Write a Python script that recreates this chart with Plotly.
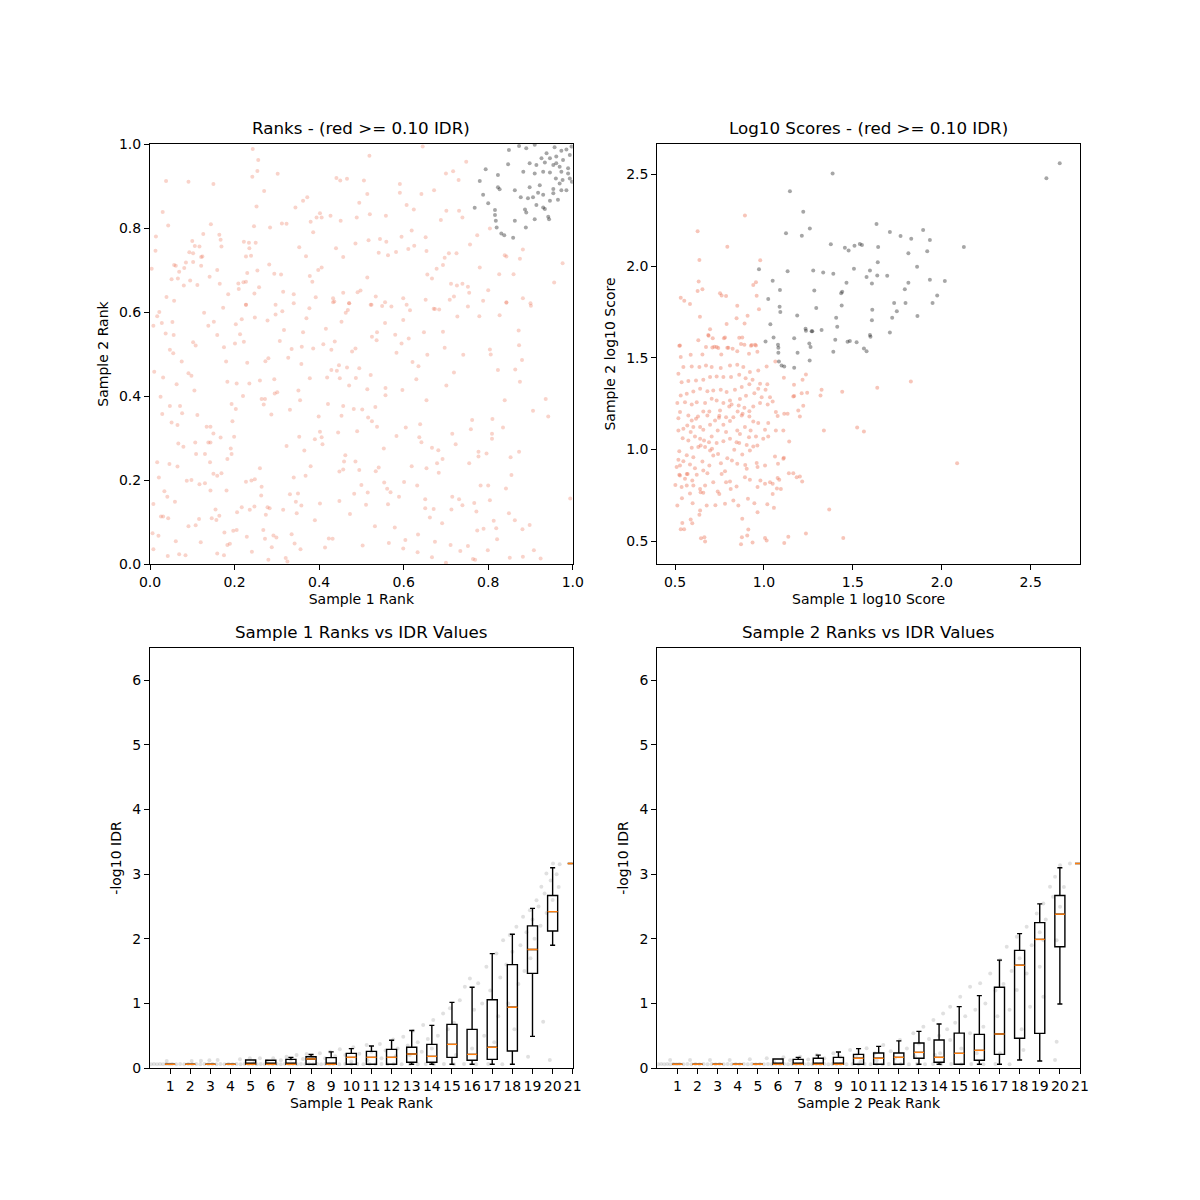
import plotly.graph_objects as go

# ---------------- data ----------------
# Top-left: ranks (sample1 rank, sample2 rank); grey = passing (IDR < 0.10), salmon = IDR >= 0.10
rank_pass = [
(0.849,0.986),(0.873,0.995),(0.890,0.990),(0.910,0.998),(0.957,0.992),(0.973,0.984),(0.985,0.987),(0.997,0.994),
(0.938,0.978),(0.926,0.966),(0.961,0.970),(0.977,0.962),(0.993,0.974),(0.847,0.952),(0.898,0.954),(0.914,0.950),
(0.934,0.956),(0.954,0.950),(0.969,0.946),(0.989,0.942),(0.794,0.940),(0.883,0.934),(0.910,0.930),(0.930,0.934),
(0.946,0.932),(0.973,0.934),(0.993,0.918),(0.823,0.926),(0.780,0.912),(0.823,0.897),(0.863,0.890),(0.898,0.897),
(0.922,0.902),(0.954,0.893),(0.969,0.906),(0.985,0.890),(0.788,0.879),(0.827,0.892),(0.877,0.873),(0.894,0.871),
(0.906,0.873),(0.918,0.884),(0.930,0.879),(0.954,0.883),(0.965,0.867),(0.946,0.865),(0.800,0.859),(0.768,0.848),
(0.816,0.843),(0.887,0.844),(0.914,0.855),(0.930,0.849),(0.934,0.845),(0.890,0.837),(0.816,0.831),(0.818,0.817),
(0.863,0.817),(0.910,0.821),(0.942,0.827),(0.944,0.821),(0.820,0.801),(0.831,0.787),(0.838,0.783),(0.859,0.777),
(0.889,0.801),(0.961,0.954),(0.946,0.966),(0.960,0.918),(0.976,0.914),(0.989,0.930),(0.998,0.910),(0.973,0.890),
]
rank_fail = [
(0.243,0.988),(0.256,0.962),(0.254,0.936),(0.038,0.912),(0.091,0.910),(0.150,0.905),(0.242,0.922),(0.302,0.929),
(0.270,0.888),(0.252,0.851),(0.030,0.838),(0.043,0.806),(0.144,0.809),(0.014,0.780),(0.013,0.746),(0.004,0.703),
(0.441,0.919),(0.450,0.913),(0.466,0.917),(0.506,0.913),(0.519,0.972),(0.645,0.994),(0.700,0.930),(0.717,0.935),
(0.748,0.958),(0.730,0.914),(0.672,0.890),(0.591,0.905),(0.591,0.884),(0.642,0.881),(0.514,0.881),(0.495,0.860),
(0.372,0.873),(0.362,0.865),(0.344,0.849),(0.402,0.835),(0.394,0.825),(0.427,0.829),(0.406,0.825),(0.380,0.815),
(0.451,0.817),(0.489,0.825),(0.520,0.833),(0.558,0.829),(0.607,0.855),(0.624,0.844),(0.701,0.841),(0.731,0.841),
(0.688,0.819),(0.739,0.825),(0.323,0.810),(0.312,0.811),(0.284,0.801),(0.246,0.804),(0.164,0.784),(0.126,0.786),
(0.100,0.769),(0.106,0.757),(0.117,0.756),(0.093,0.742),(0.102,0.740),(0.121,0.731),(0.124,0.732),(0.057,0.712),
(0.061,0.710),(0.081,0.705),(0.069,0.696),(0.102,0.719),(0.085,0.718),(0.121,0.710),(0.051,0.678),(0.066,0.680),
(0.095,0.675),(0.080,0.663),(0.112,0.664),(0.141,0.684),(0.159,0.700),(0.167,0.772),(0.169,0.756),(0.222,0.767),
(0.234,0.765),(0.250,0.765),(0.235,0.752),(0.227,0.732),(0.239,0.734),(0.282,0.713),(0.294,0.691),(0.310,0.689),
(0.230,0.693),(0.254,0.699),(0.209,0.668),(0.221,0.671),(0.227,0.672),(0.210,0.655),(0.258,0.659),(0.185,0.642),
(0.247,0.644),(0.039,0.636),(0.057,0.627),(0.353,0.754),(0.369,0.733),(0.386,0.790),(0.406,0.706),(0.398,0.700),
(0.378,0.686),(0.384,0.672),(0.340,0.642),(0.392,0.635),(0.440,0.752),(0.457,0.731),(0.486,0.763),(0.514,0.682),
(0.517,0.771),(0.544,0.774),(0.559,0.767),(0.541,0.741),(0.563,0.735),(0.582,0.743),(0.595,0.779),(0.619,0.794),
(0.625,0.758),(0.611,0.750),(0.652,0.778),(0.654,0.745),(0.656,0.689),(0.667,0.680),(0.678,0.703),(0.697,0.729),
(0.693,0.712),(0.707,0.740),(0.725,0.740),(0.757,0.761),(0.774,0.783),(0.804,0.799),(0.780,0.706),(0.826,0.690),
(0.839,0.735),(0.843,0.732),(0.875,0.727),(0.882,0.749),(0.976,0.716),(0.956,0.670),(0.860,0.690),(0.800,0.652),
(0.843,0.623),(0.882,0.633),(0.900,0.621),(0.712,0.667),(0.726,0.663),(0.739,0.667),(0.752,0.660),(0.755,0.646),
(0.709,0.629),(0.719,0.637),(0.652,0.629),(0.671,0.608),(0.491,0.647),(0.498,0.651),(0.457,0.646),(0.471,0.621),
(0.433,0.633),(0.433,0.623),(0.534,0.637),(0.522,0.617),(0.556,0.623),(0.599,0.633),(0.607,0.617),(0.227,0.617),
(0.165,0.667),(0.315,0.648),(0.297,0.617),
(0.008,0.567),(0.017,0.590),(0.022,0.600),(0.028,0.574),(0.037,0.549),(0.053,0.576),(0.056,0.545),(0.047,0.510),
(0.055,0.502),(0.075,0.482),(0.063,0.428),(0.010,0.458),(0.031,0.444),(0.025,0.398),(0.029,0.357),(0.047,0.376),
(0.051,0.337),(0.071,0.376),(0.076,0.359),(0.065,0.331),(0.067,0.287),(0.079,0.279),(0.046,0.238),(0.017,0.242),
(0.065,0.232),(0.021,0.206),(0.008,0.143),(0.034,0.173),(0.041,0.160),(0.026,0.113),(0.031,0.113),(0.043,0.109),
(0.059,0.148),(0.020,0.067),(0.006,0.073),(0.008,0.035),(0.042,0.019),(0.069,0.023),(0.084,0.021),(0.061,0.054),
(0.091,0.090),(0.108,0.092),(0.116,0.107),(0.120,0.052),(0.087,0.198),(0.098,0.200),(0.117,0.190),(0.130,0.192),
(0.143,0.175),(0.155,0.130),(0.146,0.109),(0.157,0.105),(0.164,0.115),(0.176,0.075),(0.183,0.045),(0.189,0.048),
(0.159,0.025),(0.175,0.021),(0.197,0.079),(0.206,0.123),(0.217,0.135),(0.229,0.065),(0.236,0.129),(0.247,0.137),
(0.240,0.199),(0.227,0.196),(0.248,0.202),(0.260,0.228),(0.169,0.216),(0.159,0.210),(0.150,0.215),(0.142,0.242),
(0.183,0.250),(0.193,0.262),(0.191,0.275),(0.199,0.303),(0.167,0.301),(0.150,0.311),(0.138,0.289),(0.134,0.327),
(0.143,0.327),(0.107,0.289),(0.109,0.262),(0.130,0.262),(0.112,0.355),(0.143,0.289),(0.181,0.175),(0.205,0.081),
(0.264,0.184),(0.263,0.163),(0.274,0.117),(0.278,0.135),(0.268,0.081),(0.272,0.060),(0.283,0.133),(0.292,0.068),
(0.288,0.040),(0.241,0.029),(0.280,0.010),(0.299,0.063),(0.315,0.129),(0.321,0.014),(0.325,0.006),(0.335,0.071),
(0.342,0.049),(0.347,0.121),(0.345,0.148),(0.331,0.166),(0.340,0.206),(0.350,0.168),(0.356,0.035),(0.358,0.139),
(0.368,0.210),(0.390,0.104),(0.402,0.144),(0.423,0.061),(0.432,0.060),(0.414,0.039),(0.448,0.150),(0.448,0.220),
(0.457,0.225),(0.462,0.259),(0.459,0.244),(0.473,0.119),(0.483,0.167),(0.486,0.244),(0.490,0.316),(0.495,0.224),
(0.500,0.188),(0.511,0.141),(0.503,0.044),(0.515,0.170),(0.532,0.090),(0.534,0.221),(0.541,0.230),(0.553,0.275),
(0.554,0.194),(0.561,0.179),(0.569,0.171),(0.563,0.142),(0.579,0.087),(0.565,0.050),(0.589,0.160),(0.583,0.305),
(0.601,0.195),(0.604,0.057),(0.599,0.037),(0.605,0.325),(0.619,0.233),(0.632,0.187),(0.634,0.070),(0.633,0.028),
(0.637,0.302),(0.639,0.333),(0.642,0.290),(0.651,0.154),(0.651,0.133),(0.654,0.228),(0.662,0.111),(0.667,0.277),
(0.671,0.131),(0.667,0.016),(0.674,0.053),(0.679,0.240),(0.682,0.271),(0.683,0.217),(0.691,0.097),(0.692,0.250),
(0.700,0.003),(0.711,0.045),(0.713,0.130),(0.715,0.310),(0.723,0.285),(0.715,0.160),(0.731,0.154),(0.734,0.031),
(0.739,0.140),(0.752,0.043),(0.755,0.240),(0.759,0.321),(0.762,0.343),(0.767,0.145),(0.764,0.012),(0.769,0.010),
(0.772,0.125),(0.774,0.080),(0.777,0.256),(0.777,0.267),(0.782,0.187),(0.789,0.084),(0.799,0.033),(0.800,0.187),
(0.796,0.263),(0.804,0.152),(0.809,0.310),(0.809,0.298),(0.810,0.345),(0.813,0.103),(0.819,0.085),(0.821,0.059),
(0.835,0.325),(0.839,0.390),(0.842,0.180),(0.849,0.121),(0.851,0.015),(0.855,0.212),(0.853,0.254),(0.863,0.104),
(0.873,0.267),(0.881,0.083),(0.882,0.017),(0.898,0.093),(0.908,0.033),(0.924,0.013),(0.936,0.393),(0.942,0.351),
(0.906,0.365),(0.994,0.156),(0.875,0.434),(0.880,0.486),(0.873,0.521),(0.872,0.556),(0.864,0.463),(0.823,0.462),
(0.804,0.511),(0.806,0.499),(0.827,0.592),(0.901,0.615),(0.843,0.622),(0.788,0.627),(0.779,0.590),(0.752,0.613),
(0.741,0.498),(0.727,0.589),(0.719,0.456),(0.697,0.515),(0.701,0.425),(0.693,0.553),(0.674,0.607),(0.684,0.606),
(0.656,0.498),(0.654,0.390),(0.648,0.552),(0.630,0.440),(0.635,0.471),(0.621,0.481),(0.612,0.537),(0.615,0.604),
(0.599,0.581),(0.595,0.525),(0.597,0.414),(0.583,0.503),(0.571,0.613),(0.580,0.546),(0.556,0.574),(0.537,0.552),
(0.536,0.533),(0.525,0.541),(0.522,0.450),(0.514,0.416),(0.516,0.349),(0.525,0.340),(0.537,0.327),(0.557,0.419),
(0.557,0.402),(0.533,0.374),(0.502,0.368),(0.482,0.369),(0.457,0.376),(0.453,0.353),(0.445,0.313),(0.421,0.381),
(0.399,0.351),(0.402,0.315),(0.408,0.285),(0.406,0.302),(0.390,0.297),(0.380,0.233),(0.365,0.270),(0.353,0.303),
(0.355,0.390),(0.351,0.413),(0.331,0.367),(0.323,0.281),(0.301,0.409),(0.295,0.406),(0.294,0.440),(0.287,0.356),
(0.269,0.380),(0.272,0.393),(0.264,0.393),(0.260,0.437),(0.235,0.430),(0.220,0.400),(0.205,0.430),(0.203,0.369),
(0.195,0.340),(0.193,0.381),(0.183,0.434),(0.180,0.482),(0.175,0.516),(0.159,0.545),(0.201,0.525),(0.213,0.547),
(0.222,0.529),(0.217,0.583),(0.203,0.571),(0.230,0.479),(0.248,0.587),(0.278,0.580),(0.280,0.490),(0.273,0.483),
(0.297,0.594),(0.313,0.602),(0.317,0.557),(0.307,0.531),(0.327,0.491),(0.335,0.512),(0.340,0.621),(0.362,0.552),
(0.370,0.585),(0.377,0.609),(0.358,0.476),(0.359,0.517),(0.378,0.442),(0.386,0.513),(0.416,0.560),(0.410,0.523),
(0.429,0.510),(0.437,0.530),(0.436,0.625),(0.419,0.444),(0.429,0.462),(0.442,0.460),(0.449,0.442),(0.447,0.473),
(0.453,0.577),(0.463,0.598),(0.468,0.605),(0.471,0.621),(0.466,0.468),(0.478,0.506),(0.486,0.513),(0.495,0.466),
(0.471,0.425),(0.487,0.443),(0.524,0.617),(0.549,0.614),(0.102,0.528),(0.108,0.520),(0.098,0.448),(0.105,0.413),
(0.091,0.454),(0.138,0.567),(0.151,0.577),(0.128,0.598),(0.173,0.610),(0.227,0.617),
]

# Top-right: log10 scores (sample1, sample2)
score_pass = [
(1.386,2.504),(2.588,2.478),(2.663,2.560),(1.146,2.407),(1.221,2.296),(1.258,2.204),(1.124,2.178),(1.213,2.165),
(1.633,2.229),(1.708,2.185),(1.768,2.164),(1.828,2.149),(1.895,2.196),(1.933,2.142),(1.376,2.118),(1.455,2.100),
(1.476,2.085),(1.509,2.111),(1.539,2.120),(1.551,2.115),(1.642,2.104),(1.812,2.069),(1.918,2.080),(2.124,2.104),
(1.640,2.020),(1.861,1.996),(0.972,1.982),(1.133,1.971),(1.277,1.975),(1.333,1.965),(1.390,1.958),(1.506,1.985),
(1.596,1.976),(1.577,1.940),(1.637,1.949),(1.693,1.947),(1.607,1.905),(1.049,1.920),(1.464,1.909),(1.812,1.909),
(1.933,1.925),(2.017,1.918),(1.090,1.869),(1.283,1.867),(1.440,1.860),(1.434,1.851),(1.792,1.873),(1.974,1.840),
(1.024,1.820),(1.437,1.785),(1.732,1.798),(1.796,1.798),(1.948,1.798),(1.088,1.778),(1.092,1.749),(1.294,1.771),
(1.609,1.762),(1.747,1.753),(1.187,1.731),(1.406,1.718),(1.863,1.727),(1.721,1.718),(1.607,1.704),(1.036,1.682),
(1.412,1.669),(1.234,1.658),(1.236,1.647),(1.268,1.644),(1.324,1.651),(1.708,1.638),(1.596,1.624),(1.599,1.615),
(1.054,1.611),(1.170,1.607),(1.401,1.598),(1.009,1.589),(1.079,1.571),(1.081,1.555),(1.255,1.578),(1.262,1.558),
(1.470,1.587),(1.483,1.591),(1.521,1.584),(1.562,1.551),(1.081,1.527),(1.084,1.480),(1.099,1.458),(1.114,1.453),
(1.170,1.445),(1.189,1.527),(1.257,1.485),(1.577,1.535),(1.390,1.533),(1.272,1.644),
]
score_fail = [
(0.627,2.189),(0.893,2.276),(0.794,2.105),(0.637,2.033),(0.979,2.031),(0.633,1.915),(0.654,1.873),(0.627,1.864),
(0.532,1.827),(0.552,1.811),(0.584,1.793),(0.753,1.851),(0.762,1.840),(0.787,1.836),(0.955,1.911),(0.940,1.896),
(0.959,1.838),(0.972,1.765),(0.850,1.784),(0.908,1.729),(0.640,1.724),(0.846,1.716),(0.790,1.684),(0.891,1.687),
(0.697,1.656),(0.631,1.596),(0.687,1.624),(0.712,1.607),(0.781,1.611),(0.861,1.609),(0.871,1.575),(0.931,1.569),
(0.950,1.571),(0.528,1.567),(0.721,1.560),(0.743,1.553),(0.800,1.555),(0.824,1.549),
(0.524,1.565),(0.532,1.504),(0.588,1.516),(0.654,1.518),(0.674,1.558),(0.689,1.620),(0.710,1.556),(0.734,1.558),
(0.760,1.518),(0.775,1.607),(0.794,1.555),(0.850,1.536),(0.878,1.611),(0.890,1.571),(0.916,1.522),(0.927,1.565),
(0.955,1.567),(0.963,1.533),(1.015,1.453),(1.064,1.480),(1.112,1.391),(1.169,1.353),(1.217,1.380),(1.236,1.409),
(1.243,1.309),(1.170,1.291),(1.318,1.295),(1.324,1.325),(1.337,1.104),(1.440,1.315),(1.524,1.120),(1.562,1.098),
(1.637,1.336),(1.826,1.371),(2.086,0.925),(1.367,0.673),(1.446,0.518),(1.236,0.542),(1.137,0.524),(1.114,0.491),
(1.006,0.518),(1.015,0.504),(0.936,0.493),(0.912,0.564),(0.906,0.531),(0.876,0.522),(0.871,0.484),(0.665,0.522),
(0.646,0.516),(0.669,0.498),(0.532,0.565),(0.551,0.565),(0.541,0.600),(0.588,0.618),(0.597,0.598),(0.637,0.645),
(0.641,0.667),(0.539,0.735),(0.513,0.695),(0.599,0.707),(0.678,0.695),(0.727,0.696),(0.781,0.705),(0.828,0.722),
(0.856,0.695),(0.878,0.622),(0.910,0.731),(0.946,0.707),(0.964,0.658),(1.019,0.702),(1.056,0.682),(1.049,0.758),
(1.073,0.787),(1.095,0.785),(1.086,0.835),(1.077,0.845),(1.006,0.813),(1.034,0.822),(1.140,0.871),(1.202,0.853),
(1.215,0.825),(1.079,0.922),(1.062,0.962),(1.112,0.955),(1.006,0.913),(0.959,0.927),(0.964,0.904),(0.903,0.895),
(0.895,0.916),(0.921,0.835),(0.809,0.825),(0.813,0.785),(0.781,0.882),(0.762,0.867),(0.740,0.771),(0.749,0.758),
(0.669,0.804),(0.641,0.785),(0.644,0.767),(0.659,0.764),(0.603,0.804),(0.597,0.831),(0.556,0.840),(0.571,0.867),
(0.528,0.858),(0.524,0.862),(0.584,0.918),(0.612,0.898),(0.654,0.935),(0.682,0.871),(0.693,0.913),(0.758,0.925),
(0.820,0.940),(0.850,0.922),(0.878,0.973),(0.921,0.995),(0.940,1.016),(0.963,1.022),(0.903,1.025),(0.861,1.035),
(0.833,0.998),(0.794,0.953),(0.742,0.976),(0.715,0.967),(0.708,1.004),(0.669,1.013),(0.631,1.013),(0.603,0.958),
(0.566,0.969),(0.524,0.991),(0.519,0.944),(0.547,0.936),(0.528,0.913),(0.575,1.049),(0.612,1.071),(0.641,1.058),
(0.663,1.049),(0.706,1.071),(0.734,1.035),(0.772,1.045),(0.809,1.058),(0.846,1.040),(0.865,1.085),(0.916,1.067),
(0.955,1.071),(0.996,1.058),(1.024,1.071),(1.067,1.104),(1.109,1.104),(1.142,1.044),(1.077,1.182),(1.114,1.195),
(1.133,1.195),(1.202,1.180),(1.221,1.238),(1.193,1.213),(1.165,1.289),(1.212,1.307),(1.067,1.205),(1.024,1.144),
(1.006,1.107),(0.968,1.144),(0.940,1.153),(0.918,1.180),(0.880,1.195),(0.875,1.185),(0.852,1.207),(0.828,1.176),
(0.809,1.155),(0.772,1.135),(0.747,1.173),(0.725,1.158),(0.697,1.135),(0.659,1.107),(0.641,1.122),(0.603,1.122),
(0.588,1.095),(0.547,1.113),(0.519,1.171),(0.528,1.204),(0.575,1.185),(0.594,1.158),(0.629,1.180),(0.659,1.207),
(0.693,1.207),(0.749,1.184),(0.753,1.213),(0.805,1.235),(0.818,1.245),(0.858,1.240),(0.890,1.227),(0.918,1.209),
(0.940,1.235),(0.978,1.253),(1.021,1.245),(1.049,1.262),(1.034,1.285),(0.987,1.285),(0.946,1.307),(0.899,1.293),
(0.865,1.275),(0.809,1.267),(0.772,1.253),(0.734,1.267),(0.706,1.276),(0.669,1.253),(0.622,1.258),(0.594,1.245),
(0.556,1.258),(0.513,1.253),(0.532,1.295),(0.566,1.304),(0.603,1.316),(0.641,1.331),(0.682,1.318),(0.715,1.322),
(0.757,1.325),(0.790,1.313),(0.837,1.325),(0.875,1.340),(0.918,1.355),(0.968,1.331),(1.009,1.325),(0.978,1.358),
(1.019,1.355),(0.936,1.380),(0.897,1.389),(0.861,1.407),(0.815,1.395),(0.772,1.395),(0.734,1.398),(0.697,1.395),
(0.659,1.380),(0.618,1.376),(0.575,1.373),(0.537,1.367),(0.519,1.413),(0.547,1.449),(0.594,1.453),(0.637,1.449),
(0.674,1.458),(0.706,1.449),(0.757,1.444),(0.809,1.458),(0.850,1.462),(0.884,1.449),(0.921,1.422),(0.968,1.431),
(0.594,1.009),(0.644,1.022),(0.691,1.040),(0.543,1.062),(0.519,1.104),(0.569,1.131),(0.618,1.167),(0.682,1.185),
(0.787,1.176),(0.850,1.104),(0.893,1.122),(0.925,1.104),(0.787,1.095),(0.740,1.104),(0.697,0.995),(0.659,0.885),
(0.622,0.862),(0.566,0.804),(0.537,0.795),(0.846,0.798),(0.893,0.849),(0.980,0.831),(0.964,0.795),(0.787,0.822),
(0.715,0.822),(0.584,0.760),(0.566,0.867),(0.502,0.807),(0.509,0.904),(1.109,0.949),(1.049,0.813),(1.165,0.871),
(1.184,0.849),
]

# Bottom panels: box statistics per peak-rank bin (-log10 IDR)
bin_positions = [1, 2, 3, 4, 5, 6, 7, 8, 9, 10, 11, 12, 13, 14, 15, 16, 17, 18, 19, 20, 21]
s1_lower  = [0.057,0.057,0.057,0.057,0.057,0.057,0.057,0.057,0.057,0.057,0.057,0.057,0.057,0.057,0.057,0.057,0.057,0.057,0.49,1.90,3.165]
s1_q1     = [0.057,0.057,0.057,0.057,0.057,0.057,0.057,0.057,0.057,0.057,0.057,0.057,0.088,0.088,0.165,0.120,0.134,0.263,1.464,2.12,3.165]
s1_median = [0.057,0.057,0.057,0.057,0.057,0.057,0.057,0.140,0.057,0.165,0.165,0.165,0.216,0.180,0.366,0.211,0.320,0.940,1.835,2.42,3.165]
s1_q3     = [0.057,0.057,0.057,0.057,0.124,0.120,0.134,0.175,0.160,0.227,0.258,0.289,0.320,0.366,0.675,0.598,1.057,1.600,2.200,2.67,3.165]
s1_upper  = [0.057,0.057,0.057,0.057,0.124,0.120,0.165,0.210,0.250,0.300,0.340,0.430,0.580,0.660,1.015,1.250,1.770,2.070,2.470,3.10,3.165]

s2_lower  = [0.057,0.057,0.057,0.057,0.057,0.057,0.057,0.057,0.057,0.057,0.057,0.057,0.057,0.057,0.057,0.057,0.057,0.124,0.108,0.99,3.165]
s2_q1     = [0.057,0.057,0.057,0.057,0.057,0.057,0.057,0.057,0.057,0.057,0.057,0.057,0.150,0.088,0.057,0.120,0.211,0.460,0.536,1.876,3.165]
s2_median = [0.057,0.057,0.057,0.057,0.057,0.057,0.057,0.057,0.057,0.150,0.150,0.165,0.242,0.165,0.227,0.273,0.526,1.590,1.990,2.38,3.165]
s2_q3     = [0.057,0.057,0.057,0.057,0.057,0.139,0.134,0.150,0.165,0.211,0.232,0.232,0.387,0.433,0.540,0.520,1.250,1.820,2.250,2.67,3.165]
s2_upper  = [0.057,0.057,0.057,0.057,0.057,0.139,0.165,0.200,0.247,0.300,0.335,0.420,0.567,0.680,0.950,1.120,1.670,2.080,2.540,3.10,3.165]

# Bottom panels: individual peaks (scaled rank, -log10 IDR)
s1_points = [
(0.05,0.057),(0.2,0.06),(0.35,0.057),(0.5,0.06),(0.65,0.057),(0.8,0.062),(0.95,0.057),(1.1,0.06),(1.3,0.057),(1.5,0.06),
(1.7,0.057),(1.9,0.062),(2.1,0.057),(2.3,0.06),(2.5,0.057),(2.7,0.06),(2.9,0.057),(3.1,0.062),(3.3,0.057),(3.5,0.06),
(3.7,0.057),(3.9,0.06),(4.1,0.057),(4.3,0.062),(4.5,0.057),(4.7,0.06),(4.9,0.057),(5.1,0.06),(5.3,0.057),(5.5,0.06),
(5.7,0.057),(5.9,0.06),(6.1,0.057),(6.3,0.06),(6.5,0.057),(6.7,0.06),(6.9,0.057),(7.1,0.06),(7.3,0.057),(7.5,0.06),
(7.7,0.057),(7.9,0.06),(8.1,0.057),(8.3,0.06),(8.5,0.057),(8.7,0.06),(8.9,0.057),(9.1,0.06),(9.4,0.057),(9.7,0.06),
(10.0,0.057),(10.3,0.06),(10.6,0.057),(10.9,0.06),(11.2,0.057),(11.5,0.06),(11.8,0.057),(12.1,0.06),(12.5,0.057),
(12.9,0.06),(13.3,0.057),(13.7,0.06),(14.1,0.057),(14.6,0.06),(15.1,0.057),(15.6,0.06),(16.2,0.057),(16.8,0.06),(17.5,0.057),
(0.83,0.108),(2.07,0.108),(2.53,0.113),(2.95,0.12),(3.36,0.124),(4.47,0.134),(4.96,0.15),(5.2,0.1),(5.46,0.15),(5.8,0.11),
(6.12,0.15),(6.5,0.12),(6.78,0.175),(7.0,0.13),(7.28,0.2),(7.6,0.14),(7.78,0.216),(8.1,0.16),(8.44,0.227),(8.7,0.15),
(8.94,0.253),(9.2,0.18),(9.43,0.289),(9.7,0.2),(10.1,0.32),(10.4,0.22),(10.76,0.356),(11.0,0.25),(11.42,0.371),(11.7,0.27),
(12.08,0.443),(12.3,0.3),(12.58,0.485),(12.8,0.35),(13.07,0.577),(13.3,0.4),(13.57,0.665),(13.8,0.45),(14.07,0.742),(14.3,0.5),
(14.56,0.845),(14.8,0.6),(14.9,0.923),(15.1,0.7),(15.39,1.05),(15.64,1.258),(15.89,1.387),(16.1,0.9),(16.3,1.31),(16.5,1.0),
(16.71,1.567),(16.9,1.2),(17.21,1.773),(17.4,1.4),(17.54,1.979),(17.87,2.057),(17.7,1.6),(18.2,2.186),(18.0,1.8),(18.53,2.34),
(18.4,1.9),(18.87,2.443),(18.7,2.1),(19.2,2.598),(19.0,2.3),(19.44,2.804),(19.3,2.5),(19.69,3.01),(19.6,2.7),(20.02,3.165),
(19.9,2.9),(20.35,3.155),(20.2,3.0),(19.53,0.716),(18.78,0.175),(19.86,0.124),(15.2,0.2),(16.0,0.3),(16.6,0.5),(17.1,0.4),
(17.3,0.8),(17.8,1.0),(18.1,0.6),(18.3,1.3),(18.6,1.5),(18.9,1.7),(19.1,2.0),(19.4,2.2),(19.7,2.4),(20.0,2.6),(20.3,2.8),
(14.0,0.3),(13.5,0.25),(12.9,0.2),(12.2,0.18),(11.5,0.15),(10.8,0.12),(10.0,0.1),
]
s2_points = [
(0.05,0.057),(0.2,0.06),(0.35,0.057),(0.5,0.06),(0.65,0.057),(0.8,0.062),(0.95,0.057),(1.1,0.06),(1.3,0.057),(1.5,0.06),
(1.7,0.057),(1.9,0.062),(2.1,0.057),(2.3,0.06),(2.5,0.057),(2.7,0.06),(2.9,0.057),(3.1,0.062),(3.3,0.057),(3.5,0.06),
(3.7,0.057),(3.9,0.06),(4.1,0.057),(4.3,0.062),(4.5,0.057),(4.7,0.06),(4.9,0.057),(5.1,0.06),(5.3,0.057),(5.5,0.06),
(5.7,0.057),(5.9,0.06),(6.1,0.057),(6.3,0.06),(6.5,0.057),(6.7,0.06),(6.9,0.057),(7.1,0.06),(7.3,0.057),(7.5,0.06),
(7.7,0.057),(7.9,0.06),(8.1,0.057),(8.3,0.06),(8.5,0.057),(8.7,0.06),(8.9,0.057),(9.1,0.06),(9.4,0.057),(9.7,0.06),
(10.0,0.057),(10.3,0.06),(10.6,0.057),(10.9,0.06),(11.2,0.057),(11.5,0.06),(11.8,0.057),(12.1,0.06),(12.5,0.057),
(12.9,0.06),(13.3,0.057),(13.7,0.06),(14.1,0.057),(14.6,0.06),(15.1,0.057),(15.6,0.06),(16.2,0.057),(16.8,0.06),(17.5,0.057),
(0.64,0.124),(1.63,0.124),(2.62,0.124),(3.6,0.124),(4.6,0.134),(5.44,0.15),(5.8,0.1),(6.27,0.165),(6.6,0.12),(7.1,0.175),
(7.5,0.13),(7.92,0.2),(8.3,0.15),(8.75,0.227),(9.1,0.17),(9.58,0.278),(9.9,0.2),(10.4,0.304),(10.8,0.23),(11.23,0.356),
(11.6,0.26),(12.06,0.433),(12.4,0.3),(12.72,0.536),(13.0,0.38),(13.22,0.64),(13.5,0.45),(13.72,0.742),(14.0,0.5),(14.2,0.845),
(14.4,0.6),(14.55,0.948),(14.8,0.7),(15.05,1.103),(15.3,0.8),(15.54,1.258),(15.8,0.9),(16.04,1.31),(16.3,1.0),(16.54,1.464),
(16.8,1.2),(17.03,1.67),(17.2,1.3),(17.36,1.876),(17.6,1.5),(17.86,2.03),(18.0,1.7),(18.35,2.186),(18.6,1.9),(18.85,2.39),
(19.0,2.1),(19.18,2.546),(19.3,2.3),(19.51,2.804),(19.76,2.959),(20.01,3.139),(20.5,3.165),(19.84,0.407),(19.76,0.124),
(19.18,1.103),(18.19,0.278),(17.03,0.227),(16.2,0.64),(15.54,0.536),(14.55,0.433),(14.05,0.227),(15.87,0.227),(17.86,1.206),
(18.52,0.948),(18.35,1.464),(19.0,1.567),(19.18,1.979),(20.01,2.495),(19.84,1.979),(19.66,2.649),(20.2,2.8),(16.9,0.8),
(17.5,0.9),(18.1,0.6),(15.1,0.3),(13.8,0.2),(12.8,0.18),(11.8,0.15),(10.9,0.12),(10.1,0.1),
]

titles = ["Ranks - (red >= 0.10 IDR)", "Log10 Scores - (red >= 0.10 IDR)",
          "Sample 1 Ranks vs IDR Values", "Sample 2 Ranks vs IDR Values"]
x_labels = ["Sample 1 Rank", "Sample 1 log10 Score", "Sample 1 Peak Rank", "Sample 2 Peak Rank"]
y_labels = ["Sample 2 Rank", "Sample 2 log10 Score", "-log10 IDR", "-log10 IDR"]
rank_ticks = [0.0, 0.2, 0.4, 0.6, 0.8, 1.0]
score_ticks = [0.5, 1.0, 1.5, 2.0, 2.5]
idr_ticks = [0, 1, 2, 3, 4, 5, 6]

# ---------------- styling ----------------
FONT = "DejaVu Sans"
SALMON = "rgba(235,110,80,0.30)"
SALMON_DENSE = "rgba(235,110,80,0.40)"
GREY = "rgba(0,0,0,0.35)"
LIGHT = "rgba(0,0,0,0.12)"
ORANGE = "#ff7f0e"

def unzip(pairs):
    return [p[0] for p in pairs], [p[1] for p in pairs]

fig = go.Figure()

def scat(pairs, color, xa, ya, size=4):
    xs, ys = unzip(pairs)
    fig.add_trace(go.Scatter(x=xs, y=ys, mode="markers", xaxis=xa, yaxis=ya,
                             marker=dict(size=size, color=color, line=dict(width=0)),
                             showlegend=False, hoverinfo="skip"))

scat(rank_fail, SALMON, "x", "y")
scat(rank_pass, GREY, "x", "y")
scat(score_fail, SALMON_DENSE, "x2", "y2")
scat(score_pass, GREY, "x2", "y2")
scat(s1_points, LIGHT, "x3", "y3")
scat(s2_points, LIGHT, "x4", "y4")

def boxes(lower, q1, med, q3, upper, xa, ya):
    fig.add_trace(go.Box(x=bin_positions, lowerfence=lower, q1=q1, median=med, q3=q3, upperfence=upper,
                         width=0.5, whiskerwidth=0.5, xaxis=xa, yaxis=ya,
                         line=dict(color="black", width=1.4), fillcolor="rgba(0,0,0,0)",
                         boxpoints=False, showlegend=False, hoverinfo="skip"))
    mx, my = [], []
    for p, m in zip(bin_positions, med):
        mx += [p - 0.25, p + 0.25, None]
        my += [m, m, None]
    fig.add_trace(go.Scatter(x=mx, y=my, mode="lines", xaxis=xa, yaxis=ya,
                             line=dict(color=ORANGE, width=1.4), showlegend=False, hoverinfo="skip"))

boxes(s1_lower, s1_q1, s1_median, s1_q3, s1_upper, "x3", "y3")
boxes(s2_lower, s2_q1, s2_median, s2_q3, s2_upper, "x4", "y4")

xdom = [[0.125, 0.4773], [0.5477, 0.9], [0.125, 0.4773], [0.5477, 0.9]]
ydom = [[0.53, 0.88], [0.53, 0.88], [0.11, 0.46], [0.11, 0.46]]
xranges = [[0, 1], [0.40, 2.777], [0, 21], [0, 21]]
yranges = [[0, 1], [0.376, 2.665], [0, 6.5], [0, 6.5]]
xticks = [rank_ticks, score_ticks, bin_positions, bin_positions]
yticks = [rank_ticks, score_ticks, idr_ticks, idr_ticks]
xfmt = [".1f", ".1f", "d", "d"]
yfmt = [".1f", ".1f", "d", "d"]

axis_common = dict(showgrid=False, zeroline=False, showline=True, mirror=True, linecolor="black",
                   linewidth=1, ticks="outside", ticklen=5, tickwidth=1, tickcolor="black",
                   automargin=False, tickangle=0,
                   tickfont=dict(family=FONT, size=14, color="black"))

layout = dict(width=1200, height=1200, margin=dict(l=0, r=0, t=0, b=0),
              plot_bgcolor="white", paper_bgcolor="white", hovermode=False,
              font=dict(family=FONT, size=14, color="black"), annotations=[])
for i in range(4):
    sx = "" if i == 0 else str(i + 1)
    layout["xaxis" + sx] = dict(axis_common, domain=xdom[i], range=xranges[i], tickvals=xticks[i],
                                tickformat=xfmt[i], anchor="y" + sx,
                                title=dict(text=x_labels[i], standoff=5, font=dict(family=FONT, size=14)))
    layout["yaxis" + sx] = dict(axis_common, domain=ydom[i], range=yranges[i], tickvals=yticks[i],
                                tickformat=yfmt[i], anchor="x" + sx,
                                title=dict(text=y_labels[i], standoff=7, font=dict(family=FONT, size=14)))
    layout["annotations"].append(dict(text=titles[i], xref="paper", yref="paper",
                                      x=(xdom[i][0] + xdom[i][1]) / 2, y=ydom[i][1], yshift=4,
                                      xanchor="center", yanchor="bottom", showarrow=False,
                                      font=dict(family=FONT, size=16.7, color="black")))

fig.update_layout(**layout)
fig.write_html("out.html", config={"displayModeBar": False},
               post_script="document.body.style.margin='0';document.body.style.overflow='hidden';")
